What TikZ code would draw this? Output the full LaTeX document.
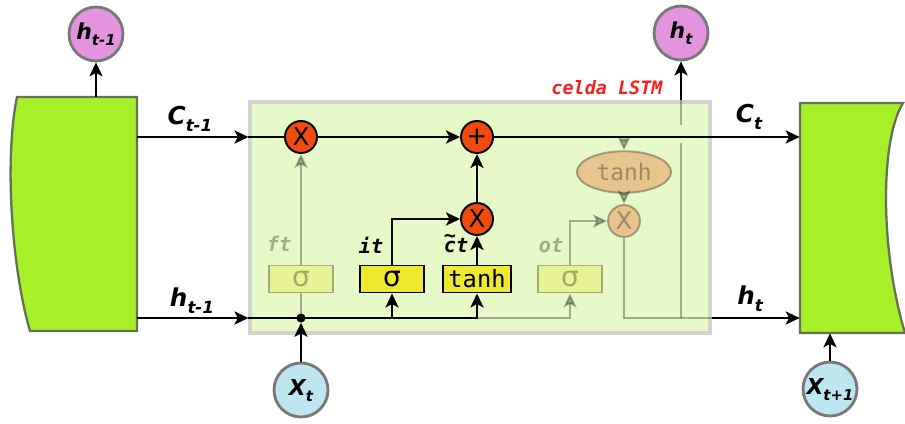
\documentclass[tikz,border=0pt]{standalone}
\usepackage{fontspec}
\setmainfont{DejaVu Sans}
\newfontfamily\monofont{DejaVu Sans Mono}
\usetikzlibrary{arrows.meta,positioning,shapes.geometric}

\definecolor{blockgreen}{RGB}{166,240,42}
\definecolor{blockedge}{RGB}{100,112,88}
\definecolor{cellfill}{RGB}{230,249,198}
\definecolor{celledge}{RGB}{208,212,202}
\definecolor{hpink}{RGB}{228,148,222}
\definecolor{xblue}{RGB}{190,230,240}
\definecolor{circedge}{RGB}{120,120,120}
\definecolor{opred}{RGB}{240,74,12}
\definecolor{gateyellow}{RGB}{238,232,46}
\definecolor{celltitle}{RGB}{250,30,30}

% variable labels: big letter + lowered index
\newcommand{\lbl}[2]{{\fontsize{14}{16}\selectfont\bfseries\itshape #1\raisebox{-0.5ex}{\fontsize{9.5}{10}\selectfont #2}}}
\newcommand{\cirlbl}[2]{{\fontsize{12.5}{14}\selectfont\bfseries\itshape #1\raisebox{-0.5ex}{\fontsize{8.5}{10}\selectfont #2}}}
% c with a tilde on top
\newcommand{\ctilde}{\ooalign{c\cr\hfil\raisebox{0.85ex}{\symbol{"7E}}\hfil\cr}}

\begin{document}
\begin{tikzpicture}[
    x=0.02cm, y=-0.02cm,
    >={Stealth[length=8pt,width=7.5pt,inset=2pt]},
    line/.style={line width=1.1pt},
    arrow/.style={->, line width=1.1pt},
    faded/.style={opacity=0.3},
    block/.style={fill=blockgreen, draw=blockedge, line width=1.3pt},
    anchorbox/.style={rectangle, inner sep=0pt},
    cellbox/.style={rectangle, fill=cellfill, draw=celledge, line width=1.8pt, minimum width=9.2cm, minimum height=4.62cm},
    state/.style={circle, draw=circedge, line width=1.6pt, minimum size=1.08cm, inner sep=0pt},
    hout/.style={state, fill=hpink},
    xin/.style={state, fill=xblue},
    op/.style={circle, draw, fill=opred, line width=1.1pt, minimum size=0.64cm, inner sep=0pt, font=\fontsize{14}{14}\selectfont},
    gate/.style={rectangle, draw, fill=gateyellow, line width=1.1pt, minimum width=1.27cm, minimum height=0.54cm, inner sep=0pt},
    glabel/.style={font=\monofont\fontsize{11.5}{13}\selectfont\bfseries\itshape},
    junction/.style={circle, fill, inner sep=0pt, minimum size=5pt}
]
    \useasboundingbox (0,0) rectangle (905,423);

    % Neighbour blocks
    \draw[block] (137,97) -- (17,97) .. controls (4,160) and (12,270) .. (30,331) -- (137,331) -- cycle;
    \draw[block] (800,103) -- (903,103) .. controls (880,140) and (880,250) .. (905,333) -- (800,333) -- cycle;
    \node (prev) [anchorbox, minimum width=2.4cm, minimum height=4.68cm] at (77,214) {};
    \node (next) [anchorbox, minimum width=2.1cm, minimum height=4.6cm] at (852.5,218) {};

    % LSTM cell
    \node (cell) [cellbox] at (480,217.5) {};
    \node (title) [font=\monofont\fontsize{10.5}{12}\selectfont\bfseries\itshape, text=celltitle] at (607,88) {celda LSTM};

    % Operations
    \node (fmul) [op] at (301,137) {X};
    \node (add) [op] at (477,137) {+};
    \node (imul) [op] at (477,219) {X};
    \node (omul) [op, faded] at (624,221) {X};
    \node (otanh) [ellipse, draw, fill=opred, line width=1.1pt, minimum width=1.6cm, minimum height=0.56cm, faded, font=\monofont\fontsize{13}{13}\selectfont] at (624,172) {tanh};

    % Gates
    \node (fsig) [gate, faded, font=\fontsize{16}{16}\selectfont] at (301,279) {σ};
    \node (isig) [gate, font=\fontsize{16}{16}\selectfont] at (392,279) {σ};
    \node (ctanh) [gate, minimum width=1.36cm, font=\monofont\fontsize{13.5}{13.5}\selectfont] at (477,279) {tanh};
    \node (osig) [gate, faded, font=\fontsize{16}{16}\selectfont] at (570,279) {σ};

    \node (lft) [glabel, faded] at (279,244) {ft};
    \node (lit) [glabel] at (371,245) {it};
    \node (lct) [glabel] at (456,245) {\ctilde t};
    \node (lot) [glabel, faded] at (551,246) {ot};

    % States in and out
    \node (hprev) [hout] at (96,34) {\cirlbl{h}{t-1}};
    \node (hcur) [hout] at (681,33) {\cirlbl{h}{t}};
    \node (xt) [xin] at (301,390) {\cirlbl{X}{t}};
    \node (xnext) [xin] at (830,389) {\cirlbl{X}{t+1}};
    \node (hdot) [junction] at (301,318) {};
    \coordinate (hup) at (681,143);
    \coordinate (hjump) at (681,125);

    % Line labels
    \node (lcprev) at (190,119) {\lbl{C}{t-1}};
    \node (lhprev) at (192,301) {\lbl{h}{t-1}};
    \node (lccur) at (749,117) {\lbl{C}{t}};
    \node (lhcur) at (750,299) {\lbl{h}{t}};

    % Output gate (faded)
    \draw[arrow, faded] (add -| otanh) -- (otanh);
    \draw[arrow, faded] (otanh) -- (omul);
    \draw[arrow, faded] (ctanh |- hdot) -| (osig);
    \draw[arrow, faded] (osig) |- (omul);
    \draw[line, faded] (omul) |- (cell.east |- hdot);
    \draw[line, faded] (hcur |- hdot) -- (hup);
    \draw[line, faded] (hjump) -- (hcur |- cell.north);

    % Forget gate (faded)
    \draw[line, faded] (hdot) -- (fsig);
    \draw[arrow, faded] (fsig) -- (fmul);

    % Cell state
    \draw[arrow] (prev.east |- fmul) -- (cell.west |- fmul);
    \draw[line] (cell.west |- fmul) -- (fmul);
    \draw[arrow] (fmul) -- (add);
    \draw[arrow] (add) -- (add -| next.west);

    % Hidden state and input gate
    \draw[arrow] (prev.east |- hdot) -- (cell.west |- hdot);
    \draw[arrow] (cell.west |- hdot) -| (ctanh);
    \draw[arrow] (isig |- hdot) -- (isig);
    \draw[arrow] (isig) |- (imul);
    \draw[arrow] (ctanh) -- (imul);
    \draw[arrow] (imul) -- (add);
    \draw[arrow] (xt) -- (hdot);
    \node (hdotb) [junction] at (hdot) {};

    % Outputs
    \draw[arrow] (cell.east |- hdot) -- (next.west |- hdot);
    \draw[arrow] (hcur |- cell.north) -- (hcur);
    \draw[arrow] (hprev |- prev.north) -- (hprev);
    \draw[arrow] (xnext) -- (xnext |- next.south);

\end{tikzpicture}
\end{document}
